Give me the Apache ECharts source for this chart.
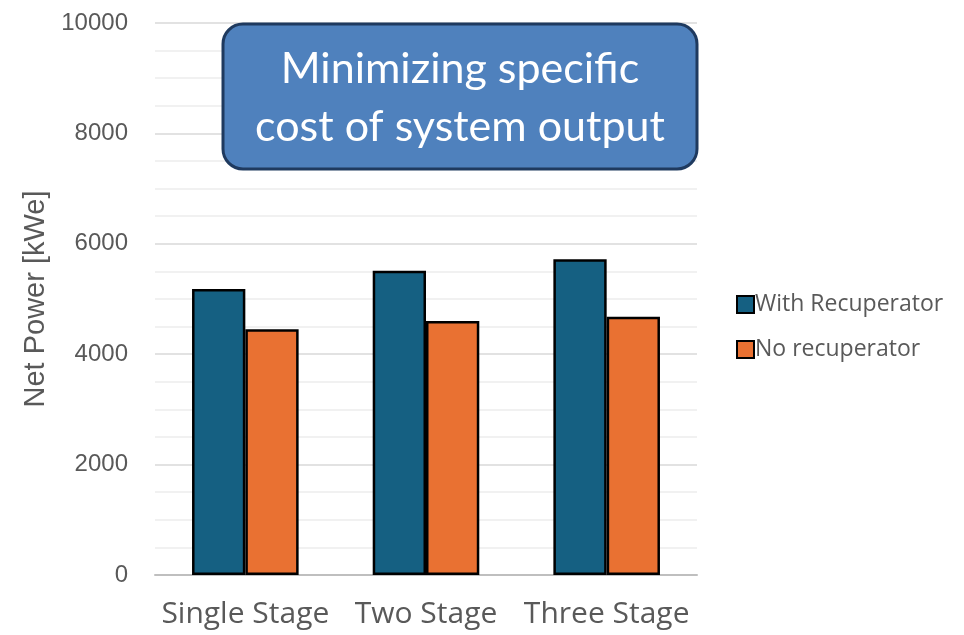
<!DOCTYPE html>
<html>
<head>
<meta charset="utf-8">
<style>
  html, body { margin: 0; padding: 0; background: #fff; }
  #chartmain { width: 964px; height: 635px; }
</style>
<script src="https://cdn.jsdelivr.net/npm/echarts@6/dist/echarts.min.js"></script>
</head>
<body>
<div id="chartmain"></div>
<script>
var categories = ['Single Stage', 'Two Stage', 'Three Stage'];
var withRecup = [5180, 5510, 5720];
var noRecup = [4450, 4600, 4680];
var seriesNames = ['With Recuperator', 'No recuperator'];

var option = {
    animation: false,
    color: ['#156082', '#E97132'],
    grid: { left: 155, right: 267, top: 23, bottom: 60 },
    legend: {
        orient: 'vertical',
        left: 731,
        top: 288,
        itemWidth: 17,
        itemHeight: 17,
        itemGap: 22,
        icon: 'rect',
        data: seriesNames,
        textStyle: { color: '#595959', fontSize: 23, fontFamily: 'Open Sans', padding: [0, 0, 0, -4] }
    },
    xAxis: {
        type: 'category',
        data: categories,
        axisTick: { show: false },
        axisLine: { lineStyle: { color: '#bfbfbf', width: 2 } },
        axisLabel: { color: '#595959', fontSize: 30, fontFamily: 'Open Sans', margin: 24, interval: 0 }
    },
    yAxis: {
        type: 'value',
        min: 0,
        max: 10000,
        interval: 2000,
        name: 'Net Power [kWe]',
        nameLocation: 'middle',
        nameGap: 100,
        nameTextStyle: { color: '#595959', fontSize: 29, fontFamily: 'Liberation Sans' },
        axisLabel: {
            color: '#595959', fontSize: 24, fontFamily: 'Liberation Sans', margin: 27,
            formatter: function (v) { return String(v); }
        },
        splitLine: { lineStyle: { color: '#d9d9d9', width: 1.5 } },
        minorTick: { show: false, splitNumber: 4 },
        minorSplitLine: { show: true, lineStyle: { color: '#ededed', width: 1.5 } }
    },
    series: [
        {
            name: seriesNames[0],
            type: 'bar',
            data: withRecup,
            barGap: '0%',
            barCategoryGap: '41%',
            itemStyle: { borderColor: '#000', borderWidth: 2.5 }
        },
        {
            name: seriesNames[1],
            type: 'bar',
            data: noRecup,
            itemStyle: { borderColor: '#000', borderWidth: 2.5 }
        }
    ],
    graphic: [
        {
            type: 'rect',
            z: 100,
            shape: { x: 223, y: 24, width: 474, height: 145, r: 20 },
            style: { fill: '#4F81BD', stroke: '#1F3A5F', lineWidth: 3 }
        },
        {
            type: 'text',
            z: 101,
            x: 460,
            y: 98,
            style: {
                text: 'Minimizing specific\ncost of system output',
                fill: '#fff',
                font: '43px Lato',
                lineHeight: 58,
                align: 'center',
                verticalAlign: 'middle'
            }
        }
    ]
};

var myChart = echarts.init(document.getElementById('chartmain'));
myChart.setOption(option);
</script>
</body>
</html>
